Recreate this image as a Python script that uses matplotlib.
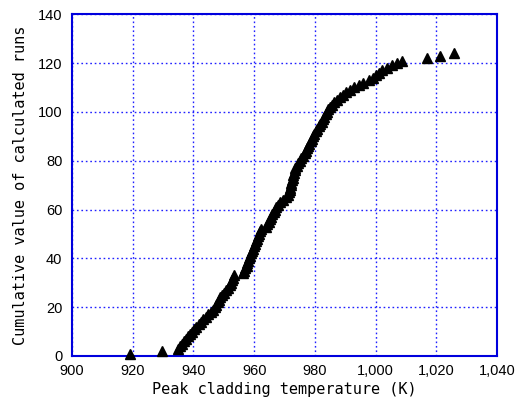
import matplotlib
matplotlib.use("Agg")
import matplotlib.pyplot as plt
from matplotlib.ticker import FuncFormatter, MultipleLocator

# peak cladding temperature (K) of each run, sorted ascending
peak_temp = [
    919.0, 929.8, 934.8, 935.5, 936.2, 936.8, 937.5, 938.1, 938.9, 939.6,
    940.3, 941.0, 941.8, 942.5, 943.2, 944.0, 944.9, 945.8, 946.5, 947.0,
    947.5, 948.0, 948.4, 948.9, 949.5, 950.1, 950.8, 951.4, 951.9, 952.3,
    952.6, 952.9, 953.2, 956.4, 956.7, 957.1, 957.5, 957.8, 958.1, 958.4,
    958.7, 959.0, 959.3, 959.6, 959.9, 960.2, 960.5, 960.8, 961.2, 961.5,
    961.8, 962.1, 964.0, 964.4, 964.8, 965.2, 965.6, 966.0, 966.4, 966.8,
    967.2, 967.8, 968.6, 969.5, 970.4, 971.0, 971.4, 971.7, 971.9, 972.1,
    972.3, 972.5, 972.7, 972.9, 973.1, 973.3, 973.6, 974.0, 974.5, 975.1,
    975.6, 976.1, 976.6, 977.0, 977.4, 977.8, 978.2, 978.6, 979.0, 979.4,
    979.8, 980.3, 980.8, 981.3, 981.8, 982.3, 982.7, 983.1, 983.6, 984.0,
    984.5, 985.0, 985.6, 986.3, 987.2, 988.2, 989.3, 990.4, 991.6, 992.8,
    994.5, 996.0, 998.0, 999.2, 1000.3, 1001.3, 1002.2, 1003.8, 1005.3, 1007.0,
    1008.8, 1017.0, 1021.2, 1026.0,
]
cumulative = list(range(1, len(peak_temp) + 1))

plt.rcParams["font.family"] = ["Liberation Sans", "DejaVu Sans"]

fig = plt.figure(figsize=(5.22, 4.05), dpi=100)
ax = fig.add_axes([0.138, 0.121, 0.814, 0.844])

ax.plot(peak_temp, cumulative, linestyle="none", marker="^",
        markersize=6.5, color="black", clip_on=False, zorder=3)

ax.set_xlim(900, 1040)
ax.set_ylim(0, 140)
ax.xaxis.set_major_locator(MultipleLocator(20))
ax.yaxis.set_major_locator(MultipleLocator(20))
ax.xaxis.set_major_formatter(FuncFormatter(lambda v, pos: f"{v:,.0f}"))

ax.grid(True, color="#2020ff", linestyle=(0, (1.2, 2.0)), linewidth=1.0)
ax.set_axisbelow(True)
for spine in ax.spines.values():
    spine.set_color("#0000dd")
    spine.set_linewidth(1.5)

ax.tick_params(length=0, labelsize=10.5, colors="black")
ax.tick_params(axis="x", pad=6)
ax.tick_params(axis="y", pad=7)

label_font = dict(family="DejaVu Sans Mono", size=11)
ax.set_xlabel("Peak cladding temperature (K)", fontdict=label_font, labelpad=3)
ax.set_ylabel("Cumulative value of calculated runs", fontdict=label_font, labelpad=7)

fig.savefig("out.png", dpi=100)
